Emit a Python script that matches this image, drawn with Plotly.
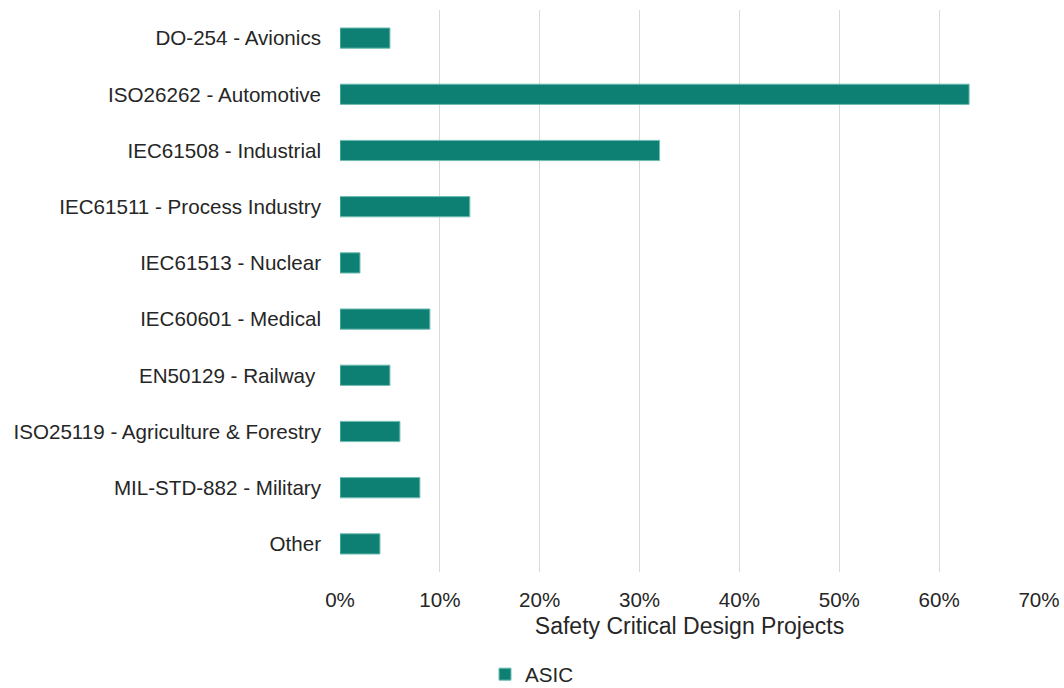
import plotly.graph_objects as go

categories = [
    "DO-254 - Avionics",
    "ISO26262 - Automotive",
    "IEC61508 - Industrial",
    "IEC61511 - Process Industry",
    "IEC61513 - Nuclear",
    "IEC60601 - Medical",
    "EN50129 - Railway ",
    "ISO25119 - Agriculture & Forestry",
    "MIL-STD-882 - Military",
    "Other",
]
asic_values = [0.05, 0.63, 0.32, 0.13, 0.02, 0.09, 0.05, 0.06, 0.08, 0.04]
tick_values = [0, 0.1, 0.2, 0.3, 0.4, 0.5, 0.6, 0.7]
tick_labels = ["0%", "10%", "20%", "30%", "40%", "50%", "60%", "70%"]

bar_color = "#0E8073"
text_color = "#262626"
font_family = "Liberation Sans"
label_size = 20.6

fig = go.Figure(
    go.Bar(
        name="ASIC",
        x=asic_values,
        y=categories,
        orientation="h",
        width=0.36,
        marker=dict(color=bar_color, line=dict(color="#6fbdb2", width=1)),
        showlegend=True,
    )
)

fig.update_layout(
    width=1064,
    height=688,
    margin=dict(l=340, r=25, t=10, b=116),
    plot_bgcolor="white",
    paper_bgcolor="white",
    font=dict(family=font_family, size=label_size, color=text_color),
    xaxis=dict(
        range=[0, 0.7],
        tickvals=tick_values,
        ticktext=tick_labels,
        tickangle=0,
        automargin=False,
        showgrid=True,
        gridcolor="#d9d9d9",
        gridwidth=1,
        zeroline=False,
        showline=False,
        ticks="",
        ticklabelstandoff=13,
        tickfont=dict(family=font_family, size=label_size, color=text_color),
        title=dict(text="Safety Critical Design Projects",
                   font=dict(family=font_family, size=23, color=text_color), standoff=8),
    ),
    yaxis=dict(
        categoryorder="array",
        categoryarray=categories,
        autorange="reversed",
        automargin=False,
        showgrid=False,
        zeroline=False,
        showline=False,
        ticks="",
        ticklabelstandoff=18,
        tickfont=dict(family=font_family, size=label_size, color=text_color),
    ),
    legend=dict(
        orientation="h",
        xref="container",
        yref="container",
        x=0.5,
        xanchor="center",
        y=0.02,
        yanchor="middle",
        font=dict(family=font_family, size=label_size, color=text_color),
        itemwidth=30,
    ),
)

fig.write_html("out.html")
